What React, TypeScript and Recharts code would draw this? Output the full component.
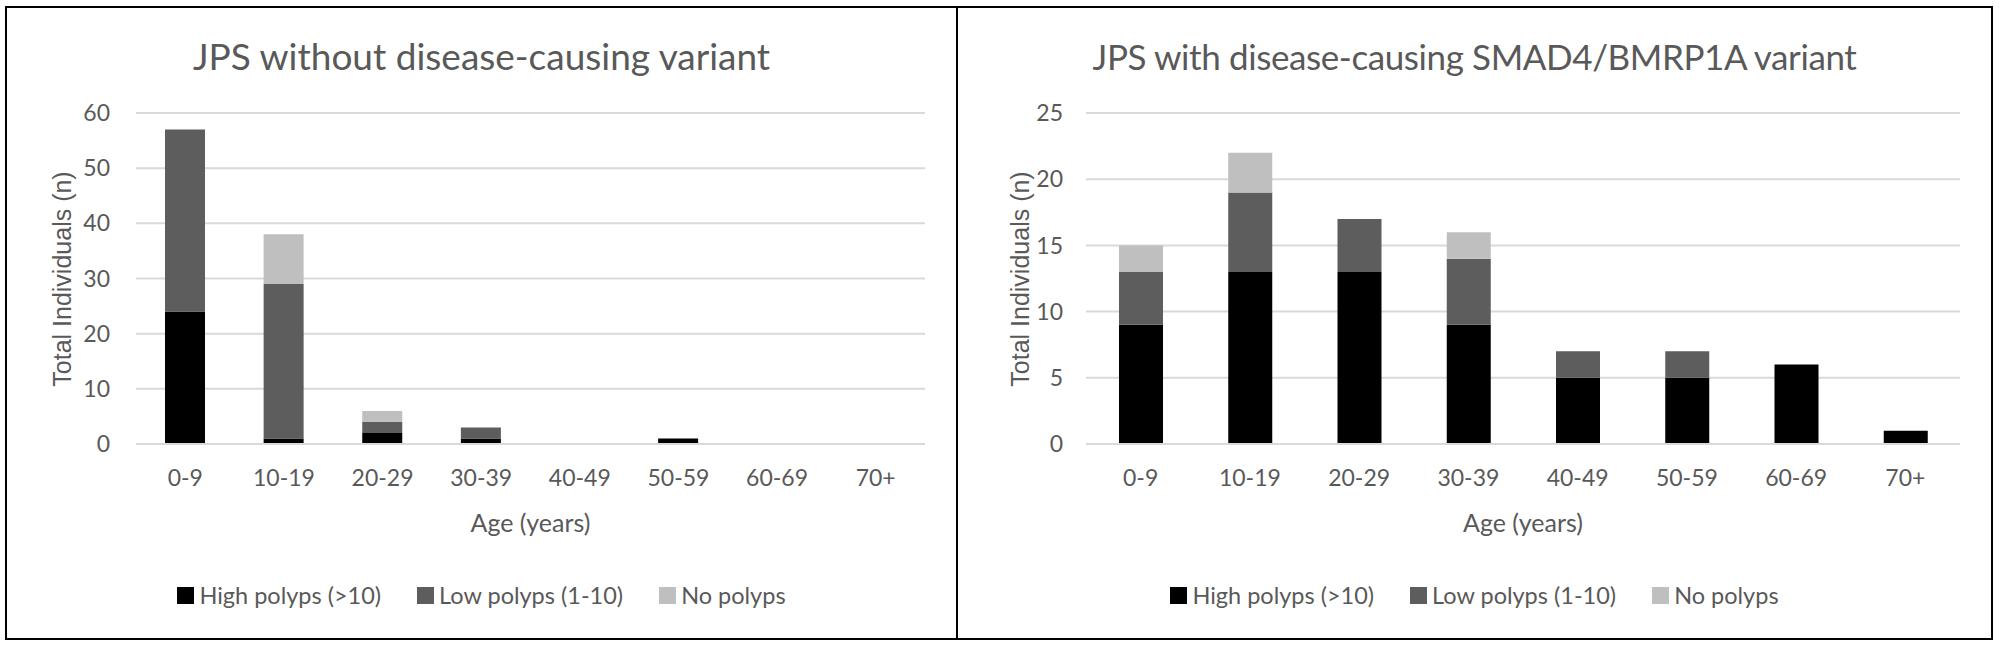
import { BarChart, Bar, XAxis, YAxis, CartesianGrid } from "recharts";

const AGES = ["0-9", "10-19", "20-29", "30-39", "40-49", "50-59", "60-69", "70+"];

// JPS without disease-causing variant
const noVarHigh = [24, 1, 2, 1, 0, 1, 0, 0];
const noVarLow = [33, 28, 2, 2, 0, 0, 0, 0];
const noVarNone = [0, 9, 2, 0, 0, 0, 0, 0];

// JPS with SMAD4/BMRP1A variant
const varHigh = [9, 13, 13, 9, 5, 5, 6, 1];
const varLow = [4, 6, 4, 5, 2, 2, 0, 0];
const varNone = [2, 3, 0, 2, 0, 0, 0, 0];

const leftTicks = [0, 10, 20, 30, 40, 50, 60];
const rightTicks = [0, 5, 10, 15, 20, 25];

const SERIES = [
  { key: "high", name: "High polyps (>10)", color: "#000000" },
  { key: "low", name: "Low polyps (1-10)", color: "#5d5d5d" },
  { key: "none", name: "No polyps", color: "#bfbfbf" },
];

const TEXT = "#595959";
const FONT = "Lato, 'Open Sans', sans-serif";

function build(high: number[], low: number[], none: number[]) {
  return AGES.map((age, i) => ({ age, high: high[i], low: low[i], none: none[i] }));
}

function Panel(props: {
  left: number;
  width: number;
  title: string;
  titleSize: number;
  titleSpacing: number;
  data: any[];
  ticks: number[];
  barSize: number;
  marginLeft: number;
  marginRight: number;
  tickGap: number;
  yLabelX: number;
}) {
  const { left, width, title, titleSize, titleSpacing, data, ticks, barSize, marginLeft, marginRight, tickGap, yLabelX } = props;
  const plotLeft = marginLeft + 60;
  const plotWidth = width - plotLeft - marginRight;
  return (
    <div style={{ position: "absolute", left, top: 8, width, height: 630, fontFamily: FONT, color: TEXT }}>
      <div
        style={{
          position: "absolute",
          left: 0,
          width,
          top: 26,
          textAlign: "center",
          fontSize: titleSize,
          letterSpacing: titleSpacing,
          lineHeight: "44px",
        }}
      >
        {title}
      </div>
      <div style={{ position: "absolute", left: yLabelX, top: 271, width: 0, height: 0 }}>
        <div
          style={{
            position: "absolute",
            transform: "translate(-50%, -50%) rotate(-90deg)",
            whiteSpace: "nowrap",
            fontFamily: "'Liberation Sans', Arial, sans-serif",
            fontSize: 25,
          }}
        >
          Total Individuals (n)
        </div>
      </div>
      <BarChart
        width={width}
        height={630}
        data={data}
        margin={{ top: 105, right: marginRight, left: marginLeft, bottom: 134 }}
      >
        <CartesianGrid vertical={false} stroke="#d9d9d9" strokeWidth={2} />
        <XAxis
          dataKey="age"
          height={60}
          tickLine={false}
          axisLine={{ stroke: "#d9d9d9", strokeWidth: 2 }}
          tickSize={6}
          tickMargin={20}
          fontSize={23}
          tick={{ fill: TEXT, fontSize: 23, fontFamily: FONT }}
          interval={0}
        />
        <YAxis
          width={60}
          domain={[0, ticks[ticks.length - 1]]}
          ticks={ticks}
          tickLine={false}
          axisLine={false}
          tickSize={6}
          tickMargin={tickGap}
          fontSize={23}
          tick={{ fill: TEXT, fontSize: 23, fontFamily: FONT }}
          interval={0}
        />
        {SERIES.map((s) => (
          <Bar key={s.key} dataKey={s.key} name={s.name} stackId="a" fill={s.color} barSize={barSize} isAnimationActive={false} />
        ))}
      </BarChart>
      <div
        style={{
          position: "absolute",
          left: plotLeft,
          width: plotWidth,
          top: 499,
          textAlign: "center",
          fontSize: 25,
          lineHeight: "30px",
        }}
      >
        Age (years)
      </div>
      <div
        style={{
          position: "absolute",
          left: 0,
          width,
          top: 572,
          height: 30,
          display: "flex",
          justifyContent: "center",
          alignItems: "center",
          fontSize: 23.5,
        }}
      >
        {SERIES.map((s, i) => (
          <div key={s.key} style={{ display: "flex", alignItems: "center", marginLeft: i === 0 ? 0 : 36 }}>
            <span style={{ display: "inline-block", width: 17, height: 17, background: s.color, marginRight: 5 }} />
            <span>{s.name}</span>
          </div>
        ))}
      </div>
    </div>
  );
}

export default function App() {
  const leftData = build(noVarHigh, noVarLow, noVarNone);
  const rightData = build(varHigh, varLow, varNone);
  return (
    <div style={{ position: "fixed", left: 0, top: 0, width: 2004, height: 646, background: "#fff" }}>
      <div style={{ position: "absolute", left: 5, top: 6, width: 1984, height: 630, border: "2px solid #000" }} />
      <div style={{ position: "absolute", left: 956, top: 6, width: 2, height: 634, background: "#000" }} />
      <Panel
        left={7}
        width={949}
        title="JPS without disease-causing variant"
        titleSize={37}
        titleSpacing={0}
        data={leftData}
        ticks={leftTicks}
        barSize={40}
        marginLeft={69}
        marginRight={31}
        tickGap={20}
        yLabelX={55}
      />
      <Panel
        left={959}
        width={1031}
        title="JPS with disease-causing SMAD4/BMRP1A variant"
        titleSize={35}
        titleSpacing={-0.4}
        data={rightData}
        ticks={rightTicks}
        barSize={44}
        marginLeft={67}
        marginRight={30}
        tickGap={17}
        yLabelX={61}
      />
    </div>
  );
}
